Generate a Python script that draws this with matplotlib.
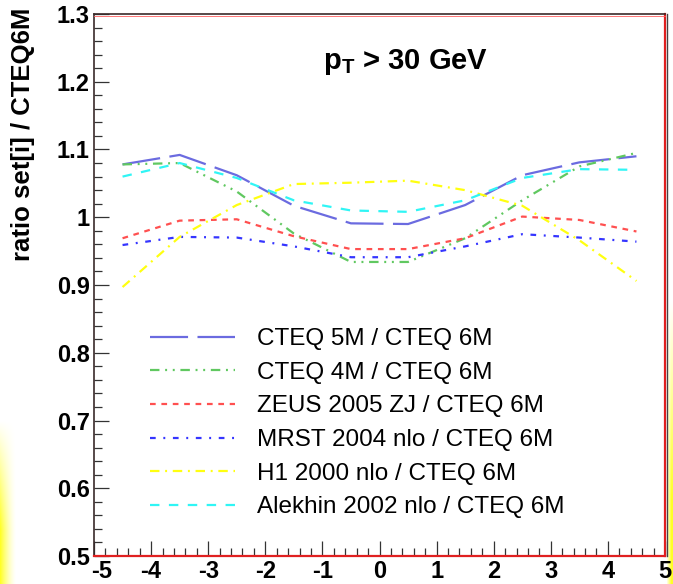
import numpy as np
import matplotlib
matplotlib.use("Agg")
import matplotlib.pyplot as plt
import matplotlib.transforms as mtransforms
from matplotlib.ticker import MultipleLocator

# ---- data: ratio of each PDF set to CTEQ 6M in rapidity bins ----
eta = [-4.5, -3.5, -2.5, -1.5, -0.5, 0.5, 1.5, 2.5, 3.5, 4.5]
cteq5m = [1.078, 1.092, 1.062, 1.017, 0.991, 0.990, 1.018, 1.062, 1.081, 1.090]
cteq4m = [1.078, 1.080, 1.038, 0.976, 0.934, 0.934, 0.969, 1.025, 1.075, 1.095]
zeus05 = [0.969, 0.995, 0.997, 0.972, 0.953, 0.953, 0.969, 1.001, 0.996, 0.979]
mrst04 = [0.959, 0.971, 0.970, 0.957, 0.941, 0.941, 0.957, 0.975, 0.970, 0.964]
h1_00 = [0.897, 0.971, 1.018, 1.049, 1.051, 1.054, 1.040, 1.017, 0.966, 0.906]
alekhin02 = [1.060, 1.080, 1.058, 1.025, 1.010, 1.008, 1.025, 1.058, 1.071, 1.070]

labels = [
    "CTEQ 5M / CTEQ 6M",
    "CTEQ 4M / CTEQ 6M",
    "ZEUS 2005 ZJ / CTEQ 6M",
    "MRST 2004 nlo / CTEQ 6M",
    "H1 2000 nlo / CTEQ 6M",
    "Alekhin 2002 nlo / CTEQ 6M",
]
x_ticks = [-5, -4, -3, -2, -1, 0, 1, 2, 3, 4, 5]
y_ticks = [0.5, 0.6, 0.7, 0.8, 0.9, 1.0, 1.1, 1.2, 1.3]
y_ticklabels = ["0.5", "0.6", "0.7", "0.8", "0.9", "1", "1.1", "1.2", "1.3"]

series = [cteq5m, cteq4m, zeus05, mrst04, h1_00, alekhin02]
colors = ["#6b6be0", "#60c860", "#ff5050", "#3535ff", "#ffff10", "#30f5f5"]
dashes = [
    (0, (27.4, 6.8)),
    (0, (6.8, 4.1, 1.4, 4.1, 1.4, 4.1)),
    (0, (4.1, 4.1)),
    (0, (4.1, 5.5, 1.4, 5.5)),
    (0, (6.8, 4.1, 1.4, 4.1)),
    (0, (6.8, 6.8)),
]

plt.rcParams["font.family"] = ["Liberation Sans", "DejaVu Sans"]
plt.rcParams["lines.scale_dashes"] = False
plt.rcParams["mathtext.fontset"] = "custom"
plt.rcParams["mathtext.rm"] = "Liberation Sans"
plt.rcParams["mathtext.bf"] = "Liberation Sans:bold"

W, H = 673, 584
fig = plt.figure(figsize=(W / 100, H / 100), dpi=100)
fig.patch.set_facecolor("white")

# soft yellow glow along the canvas edges
bg = fig.add_axes([0, 0, 1, 1], zorder=-10)
yy, xx = np.mgrid[0:H, 0:W]
left = np.clip(1 - xx / 16.0, 0, 1) ** 1.5 * np.clip((yy - 420) / 110.0, 0, 1)
right = np.clip((xx - 666) / 5.0, 0, 1) * np.clip((yy - 300) / 200.0, 0, 1)
rgba = np.zeros((H, W, 4))
rgba[..., 0] = 1.0
rgba[..., 1] = 1.0
rgba[..., 3] = np.clip(left + right, 0, 1) * 0.85
bg.imshow(rgba, extent=[0, W, H, 0], aspect="auto", interpolation="bilinear")
bg.set_xlim(0, W)
bg.set_ylim(H, 0)
bg.axis("off")

ax = fig.add_axes([94 / W, 1 - 556 / H, (665 - 94) / W, (556 - 14) / H])
ax.set_facecolor("none")

for vals, lab, col, ls in zip(series, labels, colors, dashes):
    ax.plot(eta, vals, color=col, linestyle=ls, linewidth=1.6,
            dash_capstyle="butt", label=lab)

ax.set_xlim(-5, 5)
ax.set_ylim(0.5, 1.3)
ax.set_xticks(x_ticks)
ax.set_xticklabels([str(t) for t in x_ticks])
ax.set_yticks(y_ticks)
ax.set_yticklabels(y_ticklabels)
ax.xaxis.set_minor_locator(MultipleLocator(0.2))
ax.yaxis.set_minor_locator(MultipleLocator(0.02))
ax.tick_params(which="both", direction="in", top=False, right=False,
               color="#333333", width=0.9)
ax.tick_params(which="major", length=10.5, pad=3, labelsize=17)
ax.tick_params(which="minor", length=5.5)
for lab in ax.get_xticklabels() + ax.get_yticklabels():
    lab.set_fontweight("bold")

# first x label sits a little to the right so it clears the "0.5" label
first = ax.get_xticklabels()[0]
first.set_transform(first.get_transform() +
                    mtransforms.ScaledTranslation(8 / 100, 0, fig.dpi_scale_trans))

# frame: dark outline with a red line just inside on bottom and right
for sp in ax.spines.values():
    sp.set_color("#3a2a2a")
    sp.set_linewidth(1.2)
ax.spines["bottom"].set_color("#e02020")
ax.spines["right"].set_color("#e02020")
ax.spines["bottom"].set_linewidth(1.6)
ax.spines["right"].set_linewidth(1.6)
ax.plot([1.0, 1.0], [0, 1], transform=ax.transAxes + mtransforms.ScaledTranslation(2 / 100, 0, fig.dpi_scale_trans),
        color="#444444", lw=1.0, clip_on=False, zorder=6)
ax.plot([0, 1.0], [1.0, 1.0], transform=ax.transAxes + mtransforms.ScaledTranslation(0, -1.5 / 100, fig.dpi_scale_trans),
        color="#ff6060", lw=0.6, clip_on=False, zorder=4)

ax.text(0.46, 1.229, r"$\mathbf{p_{T}}$ > 30 GeV", fontsize=21,
        fontweight="bold", ha="center", va="center")

fig.text(23 / W, 1 - 8 / H, "ratio set[i] / CTEQ6M", rotation=90,
         fontsize=18.5, fontweight="bold", ha="center", va="top")

leg = ax.legend(loc="upper left", bbox_to_anchor=(150 / W, 1 - 328 / H),
                bbox_transform=fig.transFigure, frameon=False, fontsize=17.5,
                handlelength=3.5, handletextpad=0.9, labelspacing=0.48,
                borderpad=0, borderaxespad=0)

fig.savefig("out.png", dpi=100, facecolor="white")
